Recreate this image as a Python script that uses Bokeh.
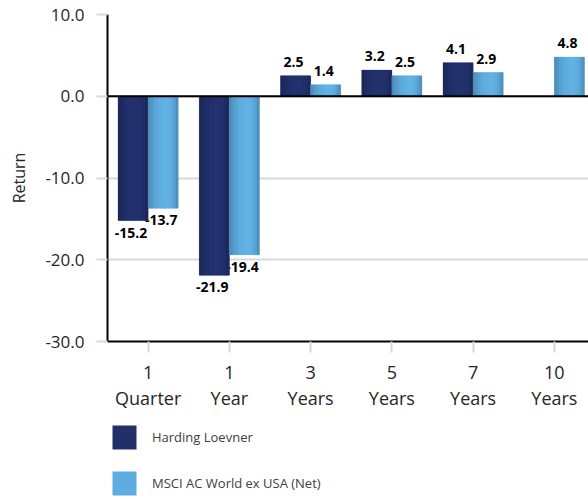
import numpy as np
from bokeh.plotting import figure
from bokeh.layouts import column
from bokeh.models import Range1d, FixedTicker, PrintfTickFormatter, Span, Legend, LegendItem, ColumnDataSource
from bokeh.embed import file_html
from bokeh.resources import INLINE
from bokeh.core.properties import value

# ---- data ----
periods = ["1\nQuarter", "1\nYear", "3\nYears", "5\nYears", "7\nYears", "10\nYears"]
harding = [-15.2, -21.9, 2.5, 3.2, 4.1, None]
msci = [-13.7, -19.4, 1.4, 2.5, 2.9, 4.8]
series_names = ["Harding Loevner", "MSCI AC World ex USA (Net)"]
y_ticks = [-30, -20, -10, 0, 10]

# ---- styles ----
FONT = "Open Sans"
HL_EDGE, HL_MID = (26, 36, 82), (35, 51, 112)
MS_EDGE, MS_MID = (69, 128, 168), (98, 179, 230)
HL_SOLID, MS_SOLID = "#22306a", "#5dade2"
BAR_W = 0.37
OFFSETS = [-BAR_W / 2, BAR_W / 2]

centers = np.arange(len(periods)) + 0.5

p = figure(width=588, height=422, output_backend="svg", toolbar_location=None,
           x_range=Range1d(0, 5.92), y_range=Range1d(-30, 10),
           min_border_left=107, min_border_right=0, min_border_top=14, min_border_bottom=81)
p.outline_line_color = None
p.background_fill_color = "white"

# grid
p.xgrid.grid_line_color = None
p.ygrid.ticker = FixedTicker(ticks=y_ticks)
p.ygrid.grid_line_color = "#d9d9d9"
p.ygrid.grid_line_width = 2

# y axis
p.yaxis.ticker = FixedTicker(ticks=y_ticks)
p.yaxis.formatter = PrintfTickFormatter(format="%.1f")
p.yaxis.axis_line_color = "black"
p.yaxis.axis_line_width = 2
p.yaxis.major_tick_line_color = "#d9d9d9"
p.yaxis.major_tick_line_width = 2
p.yaxis.major_tick_out = 11
p.yaxis.major_tick_in = 0
p.yaxis.minor_tick_line_color = None
p.yaxis.major_label_text_font = FONT
p.yaxis.major_label_text_font_size = "17px"
p.yaxis.major_label_text_color = "#262626"
p.yaxis.major_label_standoff = 12
p.yaxis.axis_label = "Return"
p.yaxis.axis_label_text_font = FONT
p.yaxis.axis_label_text_font_size = "16px"
p.yaxis.axis_label_text_font_style = "normal"
p.yaxis.axis_label_text_color = "#262626"
p.yaxis.axis_label_standoff = 12

# x axis
p.xaxis.ticker = FixedTicker(ticks=list(centers))
p.xaxis.major_label_overrides = {float(c): lab for c, lab in zip(centers, periods)}
p.xaxis.axis_line_color = "black"
p.xaxis.axis_line_width = 2
p.xaxis.major_tick_line_color = "#d9d9d9"
p.xaxis.major_tick_line_width = 2
p.xaxis.major_tick_out = 11
p.xaxis.major_tick_in = 0
p.xaxis.minor_tick_line_color = None
p.xaxis.major_label_text_font = FONT
p.xaxis.major_label_text_font_size = "18px"
p.xaxis.major_label_text_line_height = 1.1
p.xaxis.major_label_text_color = "#262626"
p.xaxis.major_label_standoff = 7

# value labels (drawn first so bars can overlap them as in the reference)
for vals, off in zip([harding, msci], OFFSETS):
    for kind in ("neg", "pos"):
        xs, ys, ts = [], [], []
        for c, v in zip(centers, vals):
            if v is None:
                continue
            if (v < 0) == (kind == "neg"):
                xs.append(c + off)
                ys.append(v)
                ts.append(f"{v:.1f}")
        src = ColumnDataSource(dict(x=xs, y=ys, t=ts))
        p.text(x="x", y="y", text="t", source=src, text_font=value(FONT),
               text_font_style="bold", text_font_size="14px", text_color="black",
               text_align="center",
               text_baseline="top" if kind == "neg" else "bottom",
               y_offset=7 if kind == "neg" else -9, x_offset=-2)

# bars: shaded strips for the cylinder look
def mix(a, b, w):
    return "#%02x%02x%02x" % tuple(int(round(a[i] + (b[i] - a[i]) * w)) for i in range(3))

N = 12
for vals, off, edge, mid, solid in zip([harding, msci], OFFSETS, [HL_EDGE, MS_EDGE], [HL_MID, MS_MID], [HL_SOLID, MS_SOLID]):
    xs = [c + off for c, v in zip(centers, vals) if v is not None]
    tops = [v for v in vals if v is not None]
    p.vbar(x=xs, top=tops, bottom=0, width=BAR_W, fill_color=solid, line_color=None)
    sw = BAR_W / N
    for k in range(N):
        t = (k + 0.5) / N
        w = np.sin(np.pi * (t / 0.62 * 0.5 if t < 0.62 else 0.5 + (t - 0.62) / 0.38 * 0.5)) ** 0.6
        col = mix(edge, mid, w)
        p.vbar(x=[xx - BAR_W / 2 + (k + 0.5) * sw for xx in xs], top=tops, bottom=0,
               width=sw * 1.02, fill_color=col, line_color=col, line_width=0.3)

# zero line
p.add_layout(Span(location=0, dimension="width", line_color="black", line_width=2))

# ---- legend panel (separate figure so it is not clipped) ----
lp = figure(width=588, height=77, output_backend="svg", toolbar_location=None,
            x_range=Range1d(0, 1), y_range=Range1d(0, 1),
            x_axis_location=None, y_axis_location=None,
            min_border_left=0, min_border_right=0, min_border_top=0, min_border_bottom=0)
lp.outline_line_color = None
lp.grid.visible = False
leg_renderers = [lp.vbar(x=[np.nan], top=[np.nan], width=0.1, fill_color=c, line_color=None)
                 for c in (HL_SOLID, MS_SOLID)]
legend = Legend(items=[LegendItem(label=n, renderers=[r]) for n, r in zip(series_names, leg_renderers)],
                orientation="vertical", location=(2, 1),
                glyph_width=30, glyph_height=30, label_standoff=13, spacing=16,
                padding=0, margin=0, border_line_color=None, background_fill_alpha=0,
                label_text_font=FONT, label_text_font_size="13px", label_text_color="#404040")
lp.add_layout(legend, "center")

layout = column(p, lp, spacing=0)

open("out.html", "w").write(file_html(layout, INLINE))
